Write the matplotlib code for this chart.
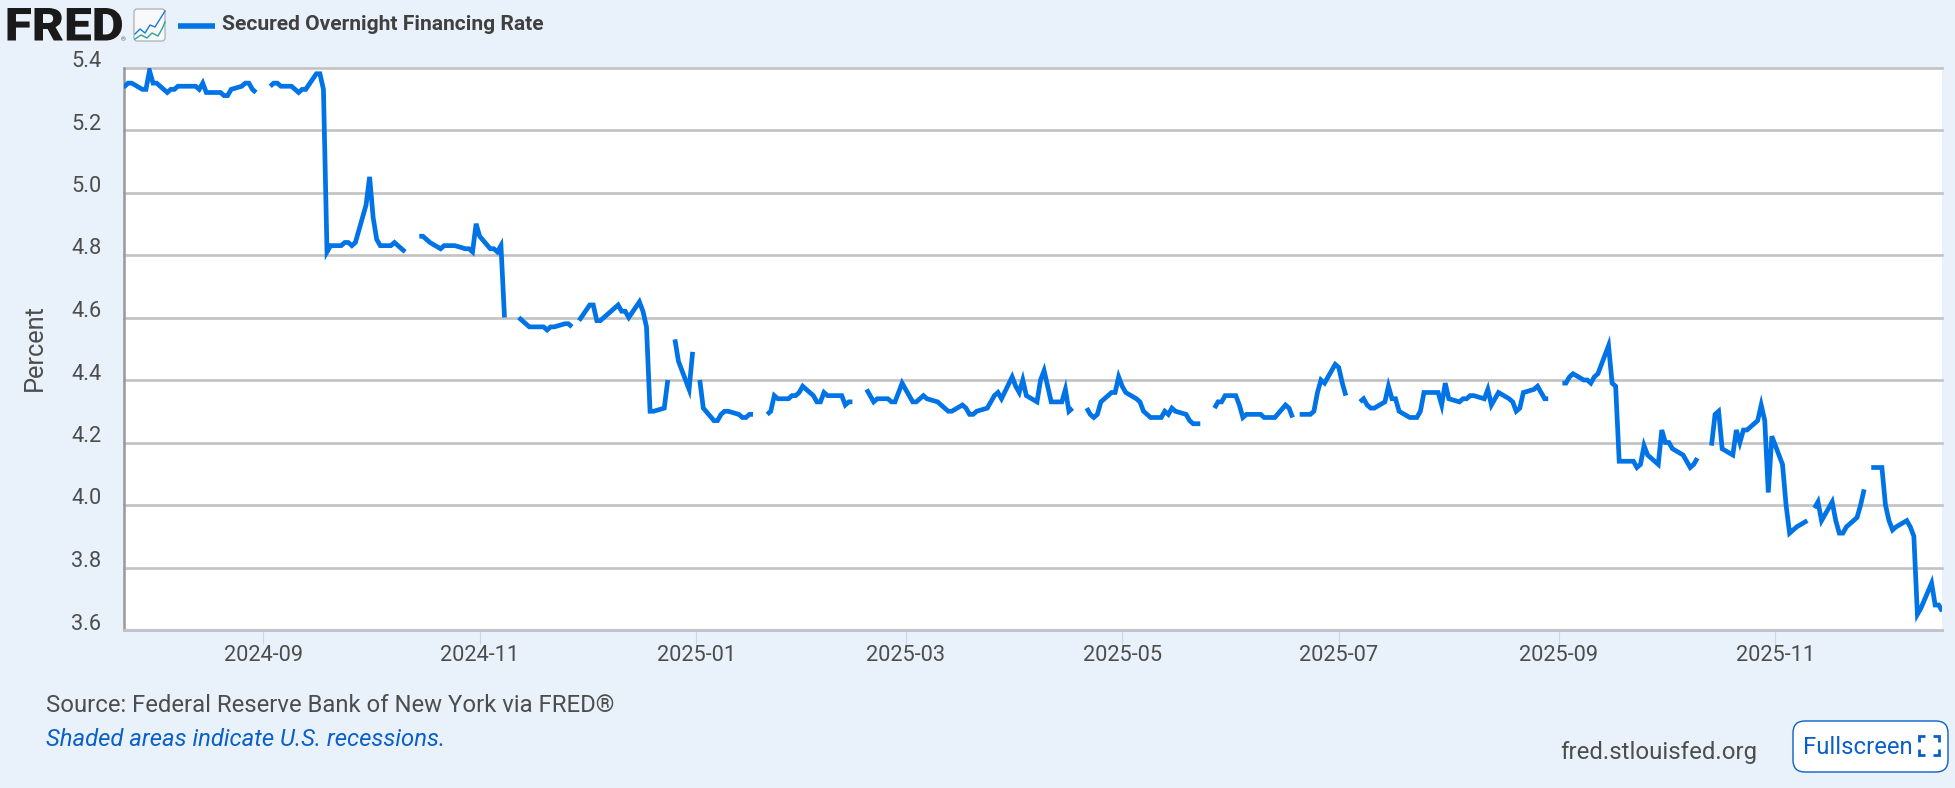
import matplotlib
matplotlib.use("Agg")
import matplotlib.pyplot as plt
import matplotlib.dates as mdates
import matplotlib.patches as patches
from matplotlib.font_manager import FontProperties
from matplotlib.path import Path
from matplotlib.textpath import TextPath
from matplotlib.transforms import Affine2D, ScaledTranslation
import pandas as pd

# === DATA (percent, one value per business day, gaps are market holidays) ===
SERIES_NAME = "Secured Overnight Financing Rate"

jul_aug_2024 = [5.34, 5.34, 5.35, 5.35, 5.33, 5.33, 5.39, 5.35, 5.35, 5.32, 5.33, 5.33, 5.34, 5.34, 5.34,
                5.34, 5.33, 5.35, 5.32, 5.32, 5.32, 5.31, 5.31, 5.33, 5.34, 5.35, 5.35, 5.33, 5.32]
sep_oct_2024 = [5.34, 5.35, 5.35, 5.34, 5.34, 5.33, 5.32, 5.33, 5.33, 5.38, 5.38, 5.33, 4.81, 4.83, 4.83,
                4.84, 4.84, 4.83, 4.84, 4.96, 5.05, 4.92, 4.85, 4.83, 4.83, 4.84, 4.83, 4.82, 4.81]
oct_nov_2024 = [4.86, 4.86, 4.85, 4.84, 4.82, 4.83, 4.83, 4.83, 4.83, 4.82, 4.82, 4.81, 4.90, 4.86, 4.82,
                4.82, 4.81, 4.83, 4.60]
nov_2024 = [4.60, 4.59, 4.58, 4.57, 4.57, 4.57, 4.56, 4.57, 4.57, 4.58, 4.58, 4.57]
dec_2024 = [4.59, 4.64, 4.64, 4.59, 4.59, 4.60, 4.63, 4.64, 4.62, 4.62, 4.60, 4.65, 4.62, 4.57, 4.30,
            4.30, 4.31, 4.40]
year_end_2024 = [4.53, 4.46, 4.37, 4.49]
jan_2025 = [4.40, 4.31, 4.27, 4.27, 4.29, 4.30, 4.30, 4.29, 4.28, 4.28, 4.29, 4.29]
jan_feb_2025 = [4.29, 4.30, 4.35, 4.34, 4.34, 4.35, 4.35, 4.36, 4.38, 4.35, 4.33, 4.33, 4.36, 4.35, 4.35,
                4.35, 4.32, 4.33, 4.33]
feb_apr_2025 = [4.37, 4.35, 4.33, 4.34, 4.34, 4.33, 4.33, 4.36, 4.39, 4.33, 4.33, 4.34, 4.35, 4.34, 4.33,
                4.32, 4.31, 4.30, 4.30, 4.32, 4.31, 4.29, 4.29, 4.30, 4.31, 4.33, 4.35, 4.36, 4.34, 4.41,
                4.38, 4.36, 4.40, 4.35, 4.33, 4.40, 4.43, 4.38, 4.33, 4.33, 4.37, 4.30, 4.31]
apr_may_2025 = [4.31, 4.29, 4.28, 4.29, 4.33, 4.36, 4.36, 4.41, 4.38, 4.36, 4.34, 4.33, 4.30, 4.29, 4.28,
                4.28, 4.30, 4.29, 4.31, 4.30, 4.29, 4.27, 4.26, 4.26, 4.26]
may_jun_2025 = [4.31, 4.33, 4.33, 4.35, 4.35, 4.32, 4.28, 4.29, 4.29, 4.29, 4.28, 4.28, 4.28, 4.28, 4.32,
                4.31, 4.28]
jun_jul_2025 = [4.29, 4.29, 4.30, 4.36, 4.40, 4.39, 4.45, 4.44, 4.39, 4.35]
jul_aug_2025 = [4.33, 4.34, 4.32, 4.31, 4.31, 4.33, 4.38, 4.34, 4.34, 4.30, 4.28, 4.28, 4.28, 4.30, 4.36,
                4.36, 4.36, 4.32, 4.39, 4.34, 4.33, 4.34, 4.34, 4.35, 4.35, 4.34, 4.37, 4.32, 4.34, 4.36,
                4.34, 4.33, 4.30, 4.31, 4.36, 4.37, 4.38, 4.36, 4.34, 4.34]
sep_oct_2025 = [4.39, 4.39, 4.41, 4.42, 4.40, 4.40, 4.39, 4.41, 4.42, 4.51, 4.39, 4.38, 4.14, 4.14, 4.14,
                4.12, 4.13, 4.19, 4.16, 4.13, 4.24, 4.20, 4.20, 4.18, 4.16, 4.14, 4.12, 4.13, 4.15]
oct_nov_2025 = [4.19, 4.29, 4.30, 4.18, 4.16, 4.24, 4.20, 4.24, 4.24, 4.27, 4.32, 4.27, 4.04, 4.22, 4.13,
                4.00, 3.91, 3.92, 3.93, 3.95]
nov_2025 = [3.99, 4.01, 3.95, 4.01, 3.95, 3.91, 3.91, 3.93, 3.96, 4.00, 4.05]
dec_2025 = [4.12, 4.12, 4.00, 3.95, 3.92, 3.93, 3.95, 3.93, 3.90, 3.65, 3.67, 3.75, 3.68, 3.68, 3.66]

runs = [("2024-07-23", "2024-08-30", jul_aug_2024), ("2024-09-03", "2024-10-11", sep_oct_2024),
        ("2024-10-15", "2024-11-08", oct_nov_2024), ("2024-11-12", "2024-11-27", nov_2024),
        ("2024-11-29", "2024-12-24", dec_2024), ("2024-12-26", "2024-12-31", year_end_2024),
        ("2025-01-02", "2025-01-17", jan_2025), ("2025-01-21", "2025-02-14", jan_feb_2025),
        ("2025-02-18", "2025-04-17", feb_apr_2025), ("2025-04-21", "2025-05-23", apr_may_2025),
        ("2025-05-27", "2025-06-18", may_jun_2025), ("2025-06-20", "2025-07-03", jun_jul_2025),
        ("2025-07-07", "2025-08-29", jul_aug_2025), ("2025-09-02", "2025-10-10", sep_oct_2025),
        ("2025-10-14", "2025-11-10", oct_nov_2025), ("2025-11-12", "2025-11-26", nov_2025),
        ("2025-11-28", "2025-12-18", dec_2025)]

y_ticks = [3.6, 3.8, 4.0, 4.2, 4.4, 4.6, 4.8, 5.0, 5.2, 5.4]

# === STYLE ===
W, H = 1955, 788
DPI = 100
BG = "#e9f2fa"
BLUE = "#0073e6"
LINK = "#0a60c8"
TEXT = "#4d4d4d"

plt.rcParams["font.family"] = ["Roboto", "DejaVu Sans"]

fig = plt.figure(figsize=(W / DPI, H / DPI), dpi=DPI, facecolor=BG)

# pixel canvas for header, footer and button
pix = fig.add_axes([0, 0, 1, 1])
pix.set_xlim(0, W)
pix.set_ylim(H, 0)
pix.axis("off")

# === PLOT AREA ===
left, right, top, bottom = 123.5, 1942, 67.5, 630
ax = fig.add_axes([left / W, 1 - bottom / H, (right - left) / W, (bottom - top) / H])
ax.set_facecolor("white")

for start, end, vals in runs:
    s = pd.Series(vals, index=pd.bdate_range(start, end))
    ax.plot(s.index, s.values, color=BLUE, lw=3.4, solid_joinstyle="miter", solid_capstyle="butt", zorder=3)

# one calendar day is 3.55 px, 2024-09-19 sits at x=327
anchor = mdates.date2num(pd.Timestamp("2024-09-19"))
ax.set_xlim(anchor + (left - 327) / 3.55, anchor + (right - 327) / 3.55)
ax.set_ylim(3.6, 5.4)

ax.xaxis.set_major_locator(mdates.MonthLocator(bymonth=[1, 3, 5, 7, 9, 11]))
ax.xaxis.set_major_formatter(mdates.DateFormatter("%Y-%m"))
ax.set_yticks(y_ticks)
ax.set_yticklabels([f"{v:.1f}" for v in y_ticks])

ax.grid(axis="y", color="#c2c2c2", lw=1.9)
ax.set_axisbelow(True)
for ln in ax.get_ygridlines():
    ln.set_clip_on(False)

for side in ["top", "right"]:
    ax.spines[side].set_visible(False)
ax.spines["left"].set_color("#999999")
ax.spines["left"].set_linewidth(1.8)
ax.spines["bottom"].set_color("#c0c4cc")
ax.spines["bottom"].set_linewidth(2.0)

ax.tick_params(axis="x", length=10, width=0.8, color="#ccd6eb", labelsize=15.7, labelcolor=TEXT, pad=1)
ax.tick_params(axis="y", length=0, labelsize=15.7, labelcolor=TEXT, pad=16)
shift = ScaledTranslation(0, 8.5 / DPI, fig.dpi_scale_trans)
for lab in ax.get_yticklabels():
    lab.set_transform(lab.get_transform() + shift)

pix.text(35, 348, "Percent", rotation=90, ha="center", va="center", fontsize=18.3, color=TEXT)

# === HEADER ===
# logo lettering stretched to its box
logo = TextPath((0, 0), "FRED", size=40, prop=FontProperties(family="Roboto", weight="black"))
box = logo.get_extents()
logo_tf = (Affine2D().translate(-box.x0, -box.y0).scale(114.5 / box.width, -32.5 / box.height)
           .translate(7.5, 40.5))
pix.add_patch(patches.PathPatch(Path(logo_tf.transform(logo.vertices), logo.codes), fc="#1a1a1a", ec="none"))
pix.text(121, 41, "®", fontsize=4.5, color="#555555", ha="left", va="baseline")

icon = patches.FancyBboxPatch((135, 10), 29, 30, boxstyle="round,pad=1,rounding_size=3", fc="#f7f9fb",
                              ec="#a8a8a8", lw=0.8)
pix.add_patch(icon)
pix.plot([135, 140, 145, 150, 155, 160, 165], [34, 29, 33, 25, 27, 19, 11], color="#1f77d8", lw=1.0)
pix.plot([135, 141, 147, 152, 158, 162, 165], [39, 35, 38, 33, 36, 29, 22], color="#2aa58e", lw=1.0)

pix.plot([178, 215], [26, 26], color=BLUE, lw=4.0, solid_capstyle="butt")
pix.text(222.5, 24.5, SERIES_NAME, fontsize=15.1, fontweight="bold", color="#404040", ha="left", va="center")

# === FOOTER ===
pix.text(46, 705, "Source: Federal Reserve Bank of New York via FRED®", fontsize=17.2, color=TEXT, ha="left",
         va="center")
pix.text(46, 740, "Shaded areas indicate U.S. recessions.", fontsize=17.2, style="italic", color=LINK, ha="left",
         va="center")
pix.text(1560, 752, "fred.stlouisfed.org", fontsize=17.3, color=TEXT, ha="left", va="center")

btn = patches.FancyBboxPatch((1805, 733), 131, 27, boxstyle="round,pad=12,rounding_size=12", fc="white", ec=LINK,
                             lw=1.0)
pix.add_patch(btn)
pix.text(1803, 747, "Fullscreen", fontsize=17.2, color=LINK, ha="left", va="center")
for cx, cy, dx, dy in [(1919, 736, 1, 1), (1939, 736, -1, 1), (1919, 755, 1, -1), (1939, 755, -1, -1)]:
    pix.plot([cx + dx * 6, cx, cx], [cy, cy, cy + dy * 6], color=LINK, lw=2.0, solid_joinstyle="miter",
             solid_capstyle="butt")

fig.savefig("out.png", dpi=DPI, facecolor=BG)
